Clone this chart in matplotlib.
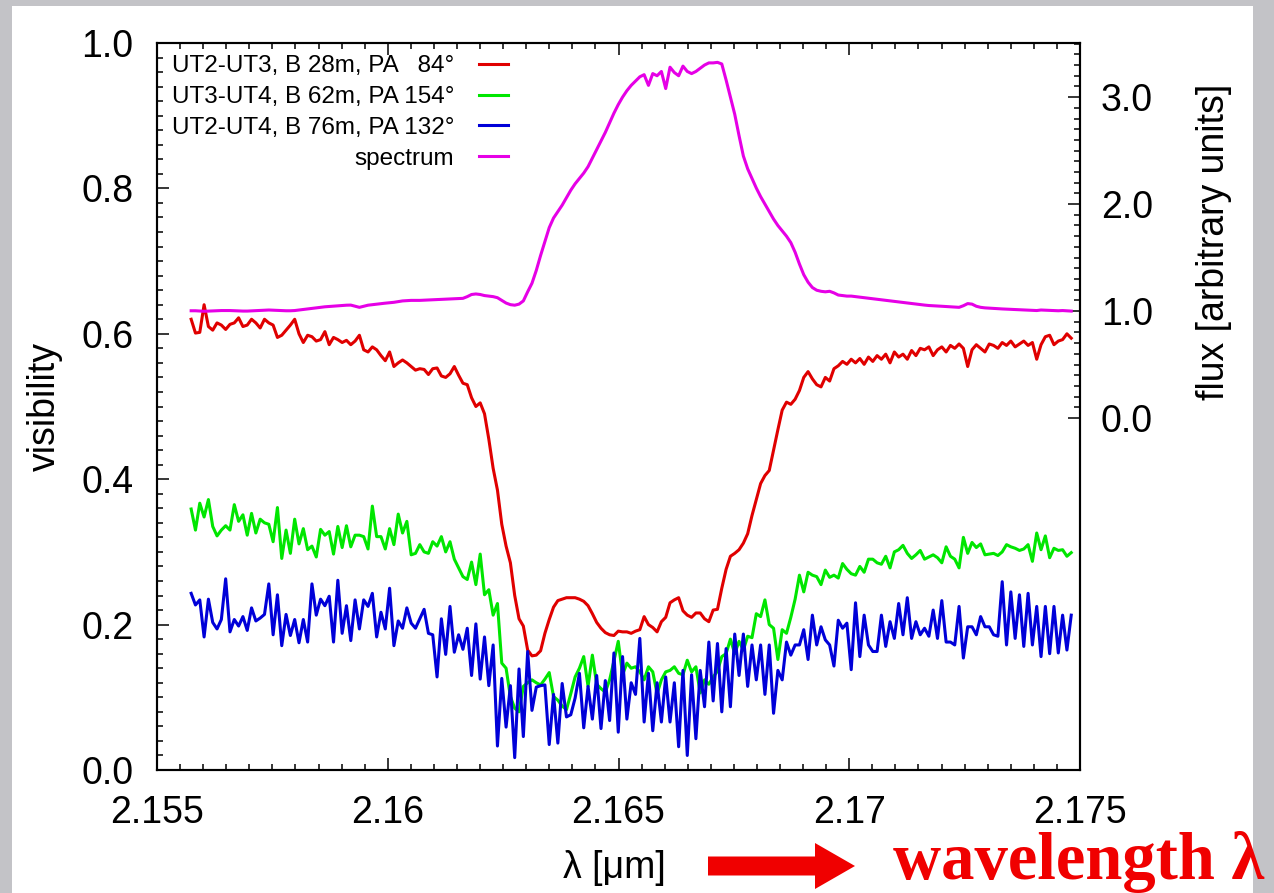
import numpy as np
import matplotlib
matplotlib.use("Agg")
import matplotlib.pyplot as plt
from matplotlib.patches import Rectangle, FancyArrow
from matplotlib.ticker import MultipleLocator, FixedLocator

plt.rcParams['font.family'] = ['Liberation Sans', 'DejaVu Sans']

# ---- data -------------------------------------------------------------
N_CHANNELS = 205
wavelength = np.linspace(2.15574, 2.17481, N_CHANNELS)   # micron

labels = ['UT2-UT3, B 28m, PA   84\u00b0',
          'UT3-UT4, B 62m, PA 154\u00b0',
          'UT2-UT4, B 76m, PA 132\u00b0',
          'spectrum']

vis_ut23 = [
    0.620, 0.601, 0.602, 0.640, 0.610, 0.605, 0.615, 0.612, 0.606, 0.613,
    0.615, 0.622, 0.610, 0.612, 0.620, 0.615, 0.608, 0.620, 0.615, 0.612,
    0.595, 0.598, 0.605, 0.612, 0.620, 0.600, 0.588, 0.598, 0.596, 0.590,
    0.592, 0.603, 0.585, 0.595, 0.592, 0.588, 0.591, 0.585, 0.590, 0.598,
    0.578, 0.575, 0.582, 0.578, 0.570, 0.563, 0.575, 0.555, 0.560, 0.564,
    0.560, 0.555, 0.550, 0.552, 0.551, 0.544, 0.552, 0.553, 0.542, 0.540,
    0.545, 0.555, 0.543, 0.532, 0.530, 0.512, 0.500, 0.505, 0.490, 0.455,
    0.415, 0.385, 0.338, 0.308, 0.285, 0.240, 0.208, 0.198, 0.165, 0.157,
    0.158, 0.164, 0.188, 0.207, 0.224, 0.233, 0.235, 0.237, 0.237, 0.237,
    0.235, 0.232, 0.226, 0.215, 0.203, 0.195, 0.189, 0.186, 0.185, 0.191,
    0.190, 0.190, 0.188, 0.191, 0.193, 0.211, 0.200, 0.196, 0.190, 0.204,
    0.210, 0.230, 0.234, 0.237, 0.219, 0.213, 0.210, 0.216, 0.216, 0.208,
    0.204, 0.220, 0.221, 0.250, 0.276, 0.294, 0.298, 0.303, 0.312, 0.325,
    0.350, 0.372, 0.394, 0.405, 0.412, 0.440, 0.468, 0.495, 0.506, 0.503,
    0.510, 0.522, 0.540, 0.548, 0.538, 0.530, 0.527, 0.540, 0.535, 0.552,
    0.556, 0.562, 0.558, 0.565, 0.560, 0.566, 0.558, 0.568, 0.562, 0.570,
    0.565, 0.572, 0.560, 0.575, 0.568, 0.572, 0.565, 0.577, 0.570, 0.580,
    0.578, 0.582, 0.570, 0.578, 0.582, 0.575, 0.584, 0.580, 0.586, 0.580,
    0.555, 0.578, 0.585, 0.580, 0.575, 0.586, 0.584, 0.580, 0.588, 0.584,
    0.590, 0.582, 0.586, 0.590, 0.584, 0.588, 0.565, 0.585, 0.596, 0.598,
    0.585, 0.590, 0.592, 0.600, 0.594]

vis_ut34 = [
    0.359, 0.330, 0.367, 0.348, 0.372, 0.335, 0.322, 0.330, 0.336, 0.330,
    0.365, 0.342, 0.351, 0.323, 0.353, 0.326, 0.345, 0.340, 0.338, 0.314,
    0.361, 0.291, 0.330, 0.298, 0.345, 0.311, 0.332, 0.303, 0.308, 0.293,
    0.331, 0.323, 0.328, 0.297, 0.335, 0.306, 0.336, 0.307, 0.323, 0.323,
    0.321, 0.304, 0.363, 0.321, 0.321, 0.304, 0.332, 0.310, 0.352, 0.326,
    0.342, 0.296, 0.298, 0.310, 0.300, 0.298, 0.314, 0.308, 0.321, 0.300,
    0.314, 0.290, 0.278, 0.266, 0.262, 0.286, 0.255, 0.297, 0.241, 0.248,
    0.213, 0.229, 0.147, 0.140, 0.101, 0.085, 0.080, 0.115, 0.120, 0.124,
    0.120, 0.117, 0.125, 0.134, 0.101, 0.096, 0.088, 0.083, 0.105, 0.128,
    0.140, 0.156, 0.115, 0.158, 0.118, 0.112, 0.107, 0.124, 0.150, 0.177,
    0.131, 0.147, 0.140, 0.142, 0.135, 0.124, 0.142, 0.135, 0.105, 0.124,
    0.135, 0.137, 0.142, 0.133, 0.131, 0.151, 0.135, 0.142, 0.106, 0.124,
    0.118, 0.128, 0.136, 0.156, 0.160, 0.180, 0.160, 0.177, 0.165, 0.184,
    0.182, 0.215, 0.211, 0.234, 0.200, 0.195, 0.152, 0.193, 0.188, 0.210,
    0.235, 0.268, 0.245, 0.272, 0.268, 0.266, 0.255, 0.275, 0.265, 0.268,
    0.264, 0.284, 0.276, 0.270, 0.268, 0.280, 0.272, 0.290, 0.290, 0.285,
    0.283, 0.294, 0.278, 0.300, 0.303, 0.309, 0.298, 0.291, 0.296, 0.302,
    0.290, 0.293, 0.296, 0.292, 0.285, 0.307, 0.294, 0.290, 0.278, 0.320,
    0.298, 0.313, 0.306, 0.311, 0.296, 0.297, 0.298, 0.295, 0.300, 0.310,
    0.307, 0.305, 0.302, 0.304, 0.310, 0.287, 0.326, 0.303, 0.322, 0.292,
    0.305, 0.302, 0.303, 0.294, 0.299]

vis_ut24 = [
    0.243, 0.227, 0.234, 0.183, 0.235, 0.203, 0.194, 0.207, 0.263, 0.190,
    0.207, 0.198, 0.211, 0.192, 0.223, 0.205, 0.209, 0.214, 0.256, 0.186,
    0.241, 0.171, 0.214, 0.185, 0.207, 0.175, 0.207, 0.176, 0.256, 0.213,
    0.235, 0.226, 0.239, 0.176, 0.261, 0.188, 0.226, 0.178, 0.234, 0.194,
    0.234, 0.225, 0.243, 0.183, 0.217, 0.194, 0.250, 0.171, 0.205, 0.195,
    0.223, 0.202, 0.195, 0.208, 0.221, 0.188, 0.186, 0.128, 0.208, 0.159,
    0.225, 0.162, 0.186, 0.166, 0.195, 0.130, 0.201, 0.125, 0.183, 0.116,
    0.172, 0.033, 0.126, 0.059, 0.116, 0.017, 0.139, 0.046, 0.163, 0.082,
    0.114, 0.116, 0.117, 0.035, 0.104, 0.037, 0.119, 0.073, 0.076, 0.099,
    0.133, 0.058, 0.115, 0.070, 0.130, 0.057, 0.123, 0.068, 0.161, 0.052,
    0.156, 0.070, 0.120, 0.104, 0.181, 0.066, 0.133, 0.054, 0.120, 0.066,
    0.128, 0.066, 0.120, 0.032, 0.137, 0.020, 0.131, 0.043, 0.137, 0.087,
    0.176, 0.095, 0.174, 0.080, 0.167, 0.087, 0.187, 0.130, 0.187, 0.115,
    0.172, 0.124, 0.172, 0.104, 0.172, 0.078, 0.137, 0.124, 0.176, 0.158,
    0.172, 0.172, 0.193, 0.152, 0.213, 0.172, 0.197, 0.179, 0.172, 0.143,
    0.206, 0.195, 0.202, 0.138, 0.230, 0.156, 0.213, 0.172, 0.163, 0.163,
    0.213, 0.170, 0.204, 0.181, 0.229, 0.186, 0.237, 0.181, 0.204, 0.186,
    0.195, 0.184, 0.220, 0.181, 0.233, 0.176, 0.176, 0.172, 0.225, 0.154,
    0.197, 0.197, 0.186, 0.211, 0.197, 0.197, 0.186, 0.184, 0.259, 0.172,
    0.245, 0.181, 0.241, 0.170, 0.243, 0.172, 0.225, 0.156, 0.225, 0.160,
    0.225, 0.161, 0.213, 0.165, 0.213]

flux = [
    1.003, 1.003, 1.000, 0.998, 1.000, 1.002, 1.003, 1.005, 1.005, 1.005,
    1.003, 1.000, 1.000, 1.000, 1.002, 1.003, 1.005, 1.008, 1.010, 1.008,
    1.005, 1.003, 1.003, 1.003, 1.005, 1.010, 1.015, 1.020, 1.025, 1.030,
    1.035, 1.040, 1.043, 1.047, 1.050, 1.053, 1.055, 1.056, 1.045, 1.035,
    1.045, 1.055, 1.060, 1.066, 1.070, 1.074, 1.078, 1.082, 1.088, 1.095,
    1.098, 1.100, 1.100, 1.100, 1.102, 1.104, 1.105, 1.107, 1.110, 1.112,
    1.114, 1.115, 1.117, 1.119, 1.135, 1.155, 1.160, 1.155, 1.145, 1.140,
    1.135, 1.125, 1.100, 1.075, 1.060, 1.055, 1.065, 1.095, 1.180, 1.260,
    1.380, 1.520, 1.650, 1.780, 1.870, 1.930, 1.990, 2.060, 2.130, 2.190,
    2.240, 2.290, 2.350, 2.430, 2.510, 2.590, 2.670, 2.760, 2.850, 2.930,
    3.000, 3.060, 3.110, 3.150, 3.190, 3.210, 3.110, 3.220, 3.200, 3.240,
    3.080, 3.280, 3.230, 3.200, 3.290, 3.240, 3.220, 3.240, 3.270, 3.300,
    3.320, 3.320, 3.325, 3.310, 3.160, 3.000, 2.840, 2.640, 2.450, 2.330,
    2.240, 2.150, 2.070, 2.000, 1.930, 1.860, 1.800, 1.750, 1.700, 1.640,
    1.550, 1.440, 1.340, 1.270, 1.220, 1.195, 1.185, 1.180, 1.185, 1.170,
    1.150, 1.145, 1.140, 1.140, 1.135, 1.130, 1.125, 1.120, 1.115, 1.110,
    1.105, 1.100, 1.095, 1.090, 1.085, 1.080, 1.075, 1.070, 1.065, 1.060,
    1.056, 1.052, 1.050, 1.048, 1.045, 1.042, 1.040, 1.038, 1.035, 1.050,
    1.070, 1.065, 1.045, 1.035, 1.030, 1.028, 1.025, 1.022, 1.020, 1.018,
    1.016, 1.014, 1.012, 1.010, 1.008, 1.006, 1.005, 1.010, 1.008, 1.005,
    1.003, 1.003, 1.005, 1.003, 1.000]

x_ticks = [2.155, 2.16, 2.165, 2.17, 2.175]
x_ticklabels = ['2.155', '2.16', '2.165', '2.17', '2.175']
vis_ticks = [0.0, 0.2, 0.4, 0.6, 0.8, 1.0]
vis_ticklabels = ['0.0', '0.2', '0.4', '0.6', '0.8', '1.0']
flux_ticks = [0.0, 1.0, 2.0, 3.0]
flux_ticklabels = ['0.0', '1.0', '2.0', '3.0']

colors = ['#e00000', '#00e600', '#0000d8', '#e600e6']

# ---- figure -----------------------------------------------------------
W, H = 1274, 893
fig = plt.figure(figsize=(W / 100, H / 100), dpi=100, facecolor='#c3c3c7')
fig.add_artist(Rectangle((12 / W, 0), (1253 - 12) / W, 1 - 6 / H,
                         transform=fig.transFigure, facecolor='white',
                         edgecolor='none', zorder=-1))

ax = fig.add_axes([157 / W, 1 - 770 / H, (1080 - 157) / W, (770 - 43) / H])
lw = 2.2
l1, = ax.plot(wavelength, vis_ut23, color=colors[0], lw=lw)
l2, = ax.plot(wavelength, vis_ut34, color=colors[1], lw=lw)
l3, = ax.plot(wavelength, vis_ut24, color=colors[2], lw=lw)

ax.set_xlim(2.155, 2.175)
ax.set_ylim(0.0, 1.0)

ax2 = ax.twinx()
l4, = ax2.plot(wavelength, flux, color=colors[3], lw=lw)
ax2.set_ylim(-3.29, 3.506)

# ticks
ax.set_xticks(x_ticks, labels=x_ticklabels)
ax.xaxis.set_minor_locator(MultipleLocator(0.0005))
ax.set_yticks(vis_ticks, labels=vis_ticklabels)
ax.yaxis.set_minor_locator(MultipleLocator(0.02))
ax.tick_params(which='both', direction='in', top=True, right=False,
               width=1.1, colors='black')
ax.tick_params(which='major', length=8.5, labelsize=27)
ax.tick_params(which='minor', length=4.5)
ax.tick_params(axis='x', which='major', pad=18)
ax.tick_params(axis='y', which='major', pad=17)

ax2.set_yticks(flux_ticks, labels=flux_ticklabels)
ax2.yaxis.set_minor_locator(FixedLocator([k / 10 for k in range(1, 36) if k % 10]))
ax2.tick_params(which='both', direction='in', right=True, left=False, width=1.1)
ax2.tick_params(which='major', length=8.5, labelsize=27, pad=15)
ax2.tick_params(which='minor', length=4.5)

for a in (ax, ax2):
    for s in a.spines.values():
        s.set_linewidth(1.5)

# axis labels
ax.set_xlabel('\u03bb [\u03bcm]', fontsize=27)
ax.xaxis.set_label_coords(0.4957, -0.135)
ax.xaxis.label.set_verticalalignment('center')
ax.set_ylabel('visibility', fontsize=27)
ax.yaxis.set_label_coords(-0.121, 0.5)
ax.yaxis.label.set_verticalalignment('center')
ax2.set_ylabel('flux [arbitrary units]', fontsize=27)
ax2.yaxis.set_label_coords(1.145, 0.726)
ax2.yaxis.label.set_verticalalignment('center')

# legend: labels right-aligned, line samples on the right
leg = ax2.legend([l1, l2, l3, l4], labels, loc='upper left',
                 bbox_to_anchor=(0.016, 0.983), frameon=False,
                 markerfirst=False, fontsize=17.5, handlelength=1.2,
                 handletextpad=1.0, labelspacing=0.36, borderpad=0,
                 borderaxespad=0)
for col in leg._legend_handle_box.get_children():
    col.align = 'right'

# annotation below the axis
fig.add_artist(FancyArrow(708 / W, 1 - 866 / H, (855 - 708) / W, 0,
                          width=19 / H, head_width=46 / H, head_length=40 / W,
                          length_includes_head=True, transform=fig.transFigure,
                          color='#f00000', lw=0))
fig.text(893 / W, 1 - 879 / H, 'wavelength \u03bb', color='#f00000',
         fontsize=48, fontweight='bold',
         family=['Liberation Serif', 'DejaVu Serif'],
         ha='left', va='baseline')

fig.savefig('out.png', dpi=100, facecolor=fig.get_facecolor())
